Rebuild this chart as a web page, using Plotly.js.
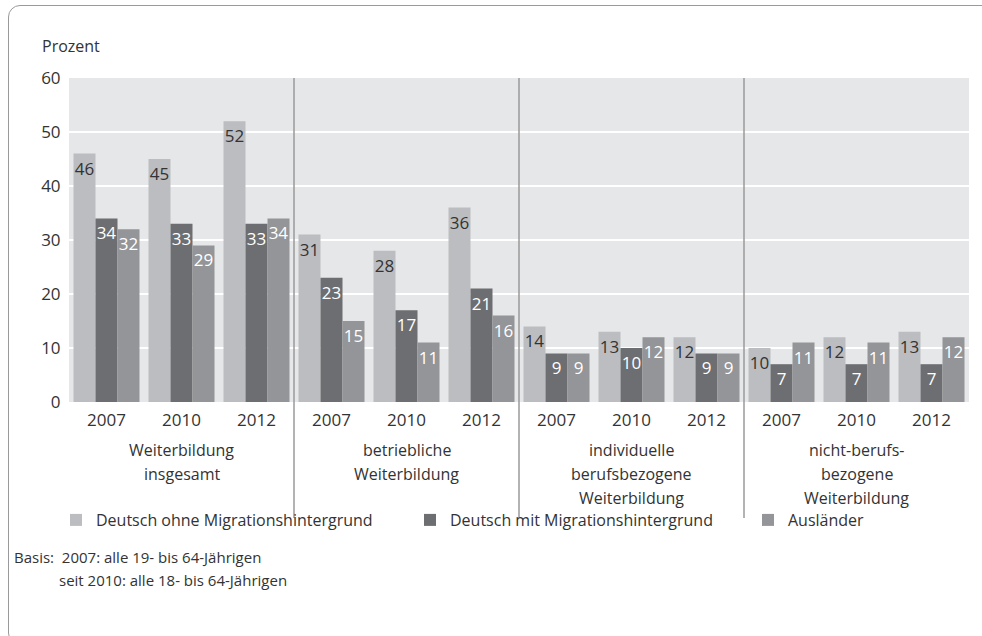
<!DOCTYPE html>
<html>
<head>
<meta charset="utf-8">
<script src="https://cdn.plot.ly/plotly-3.0.1.min.js"></script>
<style>
  html, body { margin: 0; padding: 0; background: #fff; }
  #wrap { position: relative; width: 982px; height: 636px; overflow: hidden; }
  #frame { position: absolute; left: 8px; top: 5px; width: 1000px; height: 640px;
           border: 1.5px solid #9a9a9a; border-radius: 12px; box-sizing: border-box; }
  #chart { position: absolute; left: 0; top: 0; width: 982px; height: 636px; }
</style>
</head>
<body>
<div id="wrap">
  <div id="frame"></div>
  <div id="chart"></div>
</div>
<script>
// ---- data ----
const years = ['2007', '2010', '2012'];
const groups = [
  'Weiterbildung<br>insgesamt',
  'betriebliche<br>Weiterbildung',
  'individuelle<br>berufsbezogene<br>Weiterbildung',
  'nicht-berufs-<br>bezogene<br>Weiterbildung'
];
const seriesNames = ['Deutsch ohne Migrationshintergrund', 'Deutsch mit Migrationshintergrund', 'Ausländer'];
const ohneMigration = [46, 45, 52, 31, 28, 36, 14, 13, 12, 10, 12, 13];
const mitMigration  = [34, 33, 33, 23, 17, 21, 9, 10, 9, 7, 7, 7];
const auslaender    = [32, 29, 34, 15, 11, 16, 9, 12, 9, 11, 11, 12];
const yTicks = [0, 10, 20, 30, 40, 50, 60];
const basisNote = ['Basis:  2007: alle 19- bis 64-Jährigen', 'seit 2010: alle 18- bis 64-Jährigen'];

// ---- build ----
const FONT = 'Open Sans, sans-serif';
const TXT = '#333333';
const xPos = [], xLabels = [];
groups.forEach((g, gi) => years.forEach((y, yi) => { xPos.push(gi * years.length + yi); xLabels.push(y); }));

const colors = ['#bcbdc0', '#6d6e71', '#939598'];
const textColors = ['#333333', '#ffffff', '#ffffff'];
const allValues = [ohneMigration, mitMigration, auslaender];
const legendIds = ['legend', 'legend2', 'legend3'];

const traces = allValues.map((vals, i) => ({
  type: 'bar',
  name: seriesNames[i],
  x: xPos,
  y: vals,
  text: vals.map(String),
  textposition: 'inside',
  insidetextanchor: 'end',
  textangle: 0,
  constraintext: 'none',
  cliponaxis: false,
  textfont: { family: FONT, size: 17, color: textColors[i] },
  marker: { color: colors[i], line: { width: 0 } },
  legend: legendIds[i],
  hoverinfo: 'none'
}));

// plot area: x 69..969, y 78..402
const L = 69, R = 13, T = 78, B = 636 - 402;
const PW = 982 - L - R, PH = 402 - T;
const py = p => (402 - p) / PH;   // pixel y -> paper
const px = p => (p - L) / PW;     // pixel x -> paper

const annotations = [];
groups.forEach((g, gi) => {
  g.split('<br>').forEach((line, li) => annotations.push({
    x: gi * years.length + (years.length - 1) / 2, xref: 'x',
    y: py(450 + li * 24), yref: 'paper', yanchor: 'middle', xanchor: 'center',
    text: line, showarrow: false, align: 'center',
    font: { family: FONT, size: 16, color: TXT }
  }));
});
annotations.push({
  x: px(40), xref: 'paper', y: py(46), yref: 'paper', xanchor: 'left', yanchor: 'middle',
  text: 'Prozent', showarrow: false, font: { family: FONT, size: 16, color: TXT }
});
annotations.push({
  x: px(12), xref: 'paper', y: py(557), yref: 'paper', xanchor: 'left', yanchor: 'middle',
  text: basisNote[0], showarrow: false, font: { family: FONT, size: 15, color: TXT }
});
annotations.push({
  x: px(57), xref: 'paper', y: py(580), yref: 'paper', xanchor: 'left', yanchor: 'middle',
  text: basisNote[1], showarrow: false, font: { family: FONT, size: 15, color: TXT }
});

const shapes = [];
for (let gi = 1; gi < groups.length; gi++) {
  shapes.push({
    type: 'line', xref: 'x', yref: 'paper',
    x0: gi * years.length - 0.5, x1: gi * years.length - 0.5,
    y0: py(518), y1: 1,
    line: { color: '#9a9a9a', width: 1.5 }
  });
}

const legendBase = {
  orientation: 'h', xanchor: 'left', yanchor: 'middle', y: py(520),
  bgcolor: 'rgba(0,0,0,0)', font: { family: FONT, size: 16, color: TXT },
  itemclick: false, itemdoubleclick: false
};

const layout = {
  width: 982, height: 636,
  margin: { l: L, r: R, t: T, b: B, pad: 0 },
  paper_bgcolor: 'rgba(0,0,0,0)',
  plot_bgcolor: '#e6e7e8',
  barmode: 'group',
  bargap: 0.12,
  bargroupgap: 0,
  showlegend: true,
  legend: Object.assign({}, legendBase, { x: px(56) }),
  legend2: Object.assign({}, legendBase, { x: px(410) }),
  legend3: Object.assign({}, legendBase, { x: px(748) }),
  font: { family: FONT, color: TXT },
  xaxis: {
    range: [-0.5, xPos.length - 0.5],
    tickvals: xPos, ticktext: xLabels,
    showgrid: false, zeroline: false, showline: false,
    ticks: 'outside', ticklen: 3, tickcolor: 'rgba(0,0,0,0)',
    tickfont: { family: FONT, size: 17, color: TXT },
    fixedrange: true
  },
  yaxis: {
    range: [0, 60],
    tickvals: yTicks,
    showgrid: true, gridcolor: '#ffffff', gridwidth: 1.5,
    zeroline: false, showline: false,
    ticks: 'outside', ticklen: 4, tickcolor: 'rgba(0,0,0,0)',
    tickfont: { family: FONT, size: 17, color: TXT },
    fixedrange: true
  },
  annotations: annotations,
  shapes: shapes
};

Plotly.newPlot('chart', traces, layout, { displayModeBar: false, staticPlot: true });
</script>
</body>
</html>
